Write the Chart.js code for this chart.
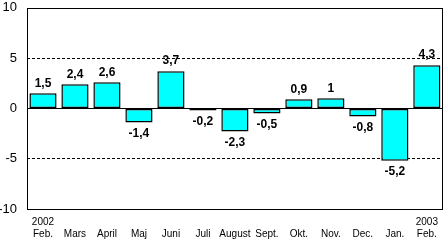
<!DOCTYPE html>
<html><head><meta charset="utf-8">
<script src="https://cdn.jsdelivr.net/npm/chart.js@4/dist/chart.umd.min.js"></script>
<style>html,body{margin:0;padding:0;background:#fff}#wrap{width:445px;height:240px}</style>
</head><body><div id="wrap"><canvas id="c" width="445" height="240"></canvas></div>
<script>
const months = ['Feb.','Mars','April','Maj','Juni','Juli','August','Sept.','Okt.','Nov.','Dec.','Jan.','Feb.'];
const years = ['2002','','','','','','','','','','','','2003'];
const values = [1.5,2.4,2.6,-1.4,3.7,-0.2,-2.3,-0.5,0.9,1,-0.8,-5.2,4.3];
const yTicks = [-10,-5,0,5,10];

const labels = months.map((m,i)=>[years[i], m]);

const fmt = v => String(v).replace('.', ',');

const framePlugin = {
  id:'frame',
  afterDraw(chart){
    const {ctx, chartArea:a, scales:{y}} = chart;
    ctx.save();
    ctx.strokeStyle='#000'; ctx.lineWidth=1;
    const z = Math.round(y.getPixelForValue(0))+0.5;
    ctx.beginPath(); ctx.moveTo(a.left, z); ctx.lineTo(a.right, z); ctx.stroke();
    ctx.strokeRect(Math.round(a.left)+0.5, Math.round(a.top)+0.5, Math.round(a.right-a.left)-1, Math.round(a.bottom-a.top));
    const meta = chart.getDatasetMeta(0);
    ctx.fillStyle='#000';
    ctx.font='bold 12px "Liberation Sans", Arial, sans-serif';
    ctx.textAlign='center';
    meta.data.forEach((bar,i)=>{
      const v = values[i];
      if (v >= 0) { ctx.textBaseline='bottom'; ctx.fillText(fmt(v), bar.x, bar.y-4); }
      else { ctx.textBaseline='top'; ctx.fillText(fmt(v), bar.x, bar.y+5); }
    });
    ctx.restore();
  }
};

new Chart(document.getElementById('c'), {
  type:'bar',
  data:{labels, datasets:[{data:values, backgroundColor:'#00FFFF', borderColor:'#000', borderWidth:1.5, borderSkipped:false, categoryPercentage:1, barPercentage:0.85}]},
  options:{
    responsive:false, animation:false, devicePixelRatio:1,
    layout:{padding:{top:0,right:1,left:0,bottom:0}},
    plugins:{legend:{display:false}, tooltip:{enabled:false}},
    scales:{
      x:{
        grid:{display:false, drawTicks:false}, border:{display:false},
        ticks:{color:'#000', font:{family:'"Liberation Sans", Arial, sans-serif', size:10, lineHeight:1.2}, maxRotation:0, autoSkip:false, padding:7},
        afterFit(s){ s.height = 31; }
      },
      y:{
        min:-10, max:10,
        afterBuildTicks(s){ s.ticks = yTicks.map(v=>({value:v})); },
        grid:{color:ctx=> (Math.abs(ctx.tick && ctx.tick.value)===5 ? '#000' : 'rgba(0,0,0,0)'), drawTicks:true, tickLength:10, tickColor:'rgba(0,0,0,0)', lineWidth:1},
        border:{display:false, dash:[3,2]},
        ticks:{color:'#000', font:{family:'"Liberation Sans", Arial, sans-serif', size:13}, padding:0},
        afterFit(s){ s.width = 27; }
      }
    }
  },
  plugins:[framePlugin]
});
</script></body></html>
